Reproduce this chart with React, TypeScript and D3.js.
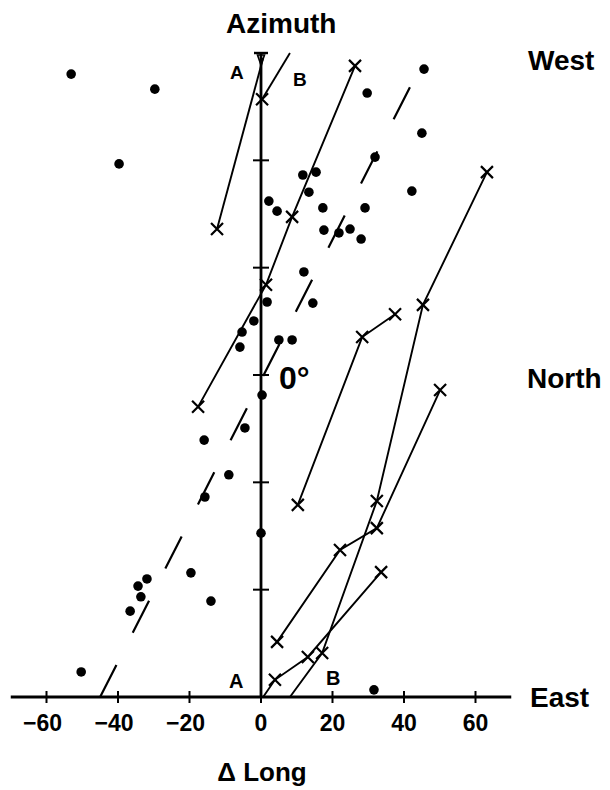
import React from "react";
import * as d3 from "d3";

// ---- data (x = Δ Long in degrees, az = azimuth in degrees; -90 = West, 0 = North, 90 = East)
const xTickValues = [-60, -40, -20, 0, 20, 40, 60];
const xTickLabels = ["−60", "−40", "−20", "0", "20", "40", "60"];
const azTickValues = [-60, -30, 0, 30, 60];

const dotPoints: [number, number][] = [
  [-53.1, -84.1], [-29.7, -79.9], [-39.7, -59.0], [29.7, -78.8], [45.6, -85.5],
  [45.0, -67.6], [31.9, -60.9], [42.2, -51.4], [11.7, -55.9], [15.4, -56.7],
  [13.4, -51.1], [2.2, -48.6], [4.5, -45.8], [17.3, -46.7], [29.1, -46.7],
  [17.6, -40.5], [21.8, -39.7], [24.9, -40.8], [28.0, -38.0], [12.0, -28.8],
  [14.5, -20.1], [1.7, -20.4], [-2.0, -15.1], [-5.3, -12.0], [-5.9, -7.8],
  [5.0, -9.8], [8.7, -9.8], [0.3, 5.6], [-4.5, 14.8], [-15.9, 18.2],
  [-9.0, 27.9], [-15.7, 34.1], [0.0, 44.2], [-19.6, 55.3], [-31.9, 57.0],
  [-34.4, 59.0], [-33.6, 62.0], [-36.6, 66.0], [-14.0, 63.2], [-50.3, 83.0],
  [31.6, 88.0],
];

// tracks: [x, az, marked]
type P = [number, number, boolean];
const trackA: P[] = [[-12.3, -40.8, true], [0.6, -88.6, false]];
const trackB: P[] = [[8.1, -90, false], [0.3, -77.1, true]];
const trackC: P[] = [[26.3, -86.4, true], [8.7, -44.2, true], [1.4, -25.2, true], [-17.6, 8.9, true]];
const trackD: P[] = [[63.2, -56.7, true], [45.3, -19.6, true], [32.4, 35.2, true], [17.1, 77.7, true], [8.1, 90, false]];
const trackE: P[] = [[37.5, -17.0, true], [28.3, -10.6, true], [10.3, 36.3, true]];
const trackF: P[] = [[50.1, 4.2, true], [32.4, 42.8, true], [22.1, 48.9, true], [4.5, 74.6, true]];
const trackG: P[] = [[33.6, 55.1, true], [13.1, 78.8, true], [3.9, 85.2, true], [0.6, 90, false]];
const tracks = [trackA, trackB, trackC, trackD, trackE, trackF, trackG];

const dashedFit: [number, number][] = [[-45, 90], [45.5, -88]];

const FONT = "'Liberation Sans', Arial, Helvetica, sans-serif";

export default function App() {
  const x = d3.scaleLinear().domain([-70, 70]).range([10.75, 511.25]);
  const y = d3.scaleLinear().domain([-90, 90]).range([53, 697]);
  const line = d3
    .line<[number, number]>()
    .x((d) => x(d[0]))
    .y((d) => y(d[1]));

  const x0 = x(0);
  const yBase = y(90);
  const yTop = y(-90);
  const m = 6;

  return (
    <svg
      width={610}
      height={790}
      style={{ position: "absolute", left: 0, top: 0, background: "#fff" }}
      fontFamily={FONT}
      fontWeight="bold"
    >
      {/* dashed fit line */}
      <path
        d={line(dashedFit) || ""}
        stroke="#000"
        strokeWidth={2.2}
        strokeDasharray="36,36"
        fill="none"
      />

      {/* x axis */}
      <line x1={x(-70)} x2={x(70)} y1={yBase} y2={yBase} stroke="#000" strokeWidth={2.8} />
      {xTickValues.map((v) => (
        <line key={"xt" + v} x1={x(v)} x2={x(v)} y1={yBase - 6} y2={yBase + 6} stroke="#000" strokeWidth={2} />
      ))}
      {xTickValues.map((v, i) => (
        <text key={"xl" + v} x={x(v) - (v < 0 ? 4 : 0)} y={731} fontSize={23} textAnchor="middle">
          {xTickLabels[i]}
        </text>
      ))}

      {/* vertical azimuth axis */}
      <line x1={x0} x2={x0} y1={yTop} y2={yBase} stroke="#000" strokeWidth={2.8} />
      {azTickValues.map((v) => (
        <line key={"yt" + v} x1={x0 - 8} x2={x0 + 8} y1={y(v)} y2={y(v)} stroke="#000" strokeWidth={2} />
      ))}
      <line x1={x0 - 7} x2={x0 + 7} y1={yTop} y2={yTop} stroke="#000" strokeWidth={2.4} />
      <path
        d={`M${x0 - 3.5},${yTop + 2} L${x0 + 3.5},${yTop + 2} L${x0},${yTop + 12} Z`}
        stroke="#000"
        strokeWidth={1.6}
        fill="none"
      />

      {/* tracks */}
      {tracks.map((t, i) => (
        <g key={"tr" + i}>
          <path
            d={line(t.map((p) => [p[0], p[1]] as [number, number])) || ""}
            stroke="#000"
            strokeWidth={1.9}
            fill="none"
          />
          {t
            .filter((p) => p[2])
            .map((p, j) => {
              const cx = x(p[0]);
              const cy = y(p[1]);
              return (
                <path
                  key={j}
                  d={`M${cx - m},${cy - m}L${cx + m},${cy + m}M${cx - m},${cy + m}L${cx + m},${cy - m}`}
                  stroke="#000"
                  strokeWidth={2.2}
                />
              );
            })}
        </g>
      ))}

      {/* dots */}
      {dotPoints.map((d, i) => (
        <circle key={"d" + i} cx={x(d[0])} cy={y(d[1])} r={4.8} fill="#000" />
      ))}

      {/* labels */}
      <text x={226} y={33} fontSize={28}>Azimuth</text>
      <text x={528} y={70} fontSize={28}>West</text>
      <text x={527} y={388} fontSize={28}>North</text>
      <text x={530} y={707} fontSize={28}>East</text>
      <text x={279} y={389} fontSize={32}>0°</text>
      <text x={262} y={781} fontSize={26} textAnchor="middle">Δ Long</text>
      <text x={230} y={79} fontSize={19}>A</text>
      <text x={293} y={86} fontSize={19}>B</text>
      <text x={229} y={688} fontSize={20}>A</text>
      <text x={326} y={685} fontSize={20}>B</text>
    </svg>
  );
}
